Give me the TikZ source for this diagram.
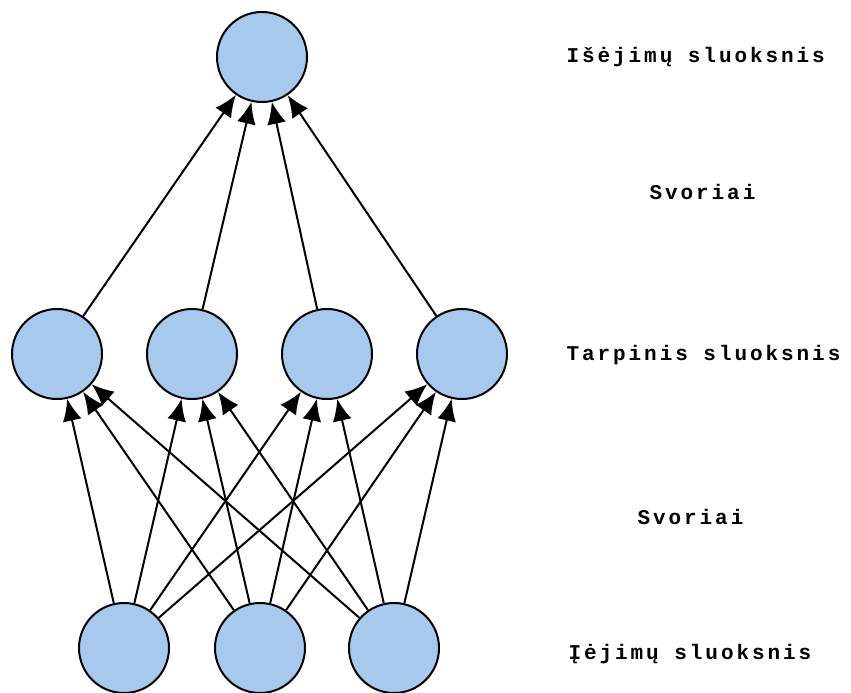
\documentclass[tikz,border=0pt]{standalone}
\usepackage{fontspec}
\setmonofont[LetterSpace=14]{Liberation Mono}
\usetikzlibrary{arrows.meta}
\definecolor{neuronblue}{RGB}{166,201,237}
\tikzset{
	neuron/.style={draw, circle, fill=neuronblue, line width=2pt, minimum size=90pt, inner sep=0pt},
	weight/.style={line width=2pt, -{Latex[length=22pt,width=19pt]}},
	layerlbl/.style={anchor=west, font=\ttfamily\bfseries\fontsize{21}{24}\selectfont}
}
\begin{document}
\begin{tikzpicture}[x=1pt,y=-1pt]

\useasboundingbox (0,0) rectangle (851,693);

% sluoksniai
\node[neuron] (out) at (262,57) {};
\foreach \i/\x in {1/57,2/192,3/327,4/462}
	\node[neuron] (h\i) at (\x,354) {};
\foreach \i/\x in {1/124,2/260,3/394}
	\node[neuron] (in\i) at (\x,648) {};

% svoriai
\foreach \i in {1,2,3}
	\foreach \j in {1,2,3,4}
		\draw[weight] (in\i) -- (h\j);
\foreach \j in {1,2,3,4}
	\draw[weight] (h\j) -- (out);

% uzrasai
\node[layerlbl] (lout) at (563,57) {Išėjimų sluoksnis};
\node[layerlbl] (lw2) at (646,192) {Svoriai};
\node[layerlbl] (lhid) at (563,355) {Tarpinis sluoksnis};
\node[layerlbl] (lw1) at (634,517) {Svoriai};
\node[layerlbl] (lin) at (565,654) {Įėjimų sluoksnis};

\end{tikzpicture}
\end{document}
